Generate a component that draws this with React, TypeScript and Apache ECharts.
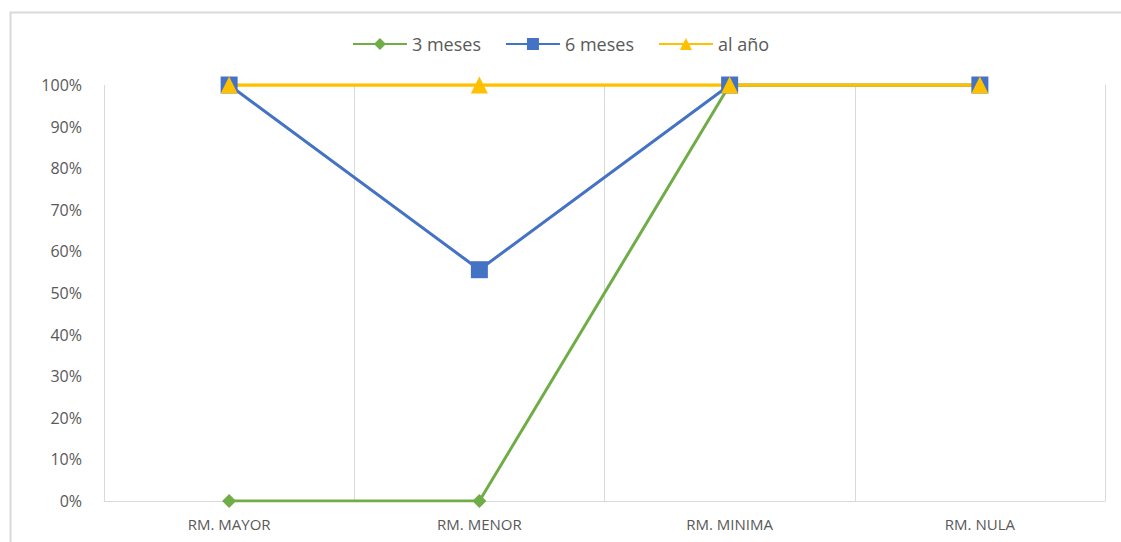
import React, { useEffect, useRef } from "react";
import * as echarts from "echarts";

const categories = ["RM. MAYOR", "RM. MENOR", "RM. MINIMA", "RM. NULA"];
const seriesNames = ["3 meses", "6 meses", "al año"];
const tresMeses = [0, 0, 1, 1];
const seisMeses = [1, 0.556, 1, 1];
const alAnio = [1, 1, 1, 1];
const yTicks = [0, 0.1, 0.2, 0.3, 0.4, 0.5, 0.6, 0.7, 0.8, 0.9, 1];

export default function App() {
  const ref = useRef<HTMLDivElement>(null);
  useEffect(() => {
    if (!ref.current) return;
    const chart = echarts.init(ref.current, null, { renderer: "svg" });
    const font = "'Open Sans', 'Noto Sans', sans-serif";
    chart.setOption({
      animation: false,
      backgroundColor: "#ffffff",
      textStyle: { fontFamily: font },
      graphic: [
        {
          type: "rect",
          shape: { x: 10.5, y: 12.5, width: 1130, height: 560 },
          style: { fill: "none", stroke: "#d9d9d9", lineWidth: 2 },
          silent: true,
        },
      ],
      legend: {
        top: 30,
        left: "center",
        itemWidth: 54,
        itemHeight: 15,
        itemGap: 24,
        textStyle: { fontSize: 18, color: "#595959", fontFamily: font },
        data: seriesNames,
      },
      grid: { left: 104, right: 16, top: 85, bottom: 41 },
      xAxis: {
        type: "category",
        data: categories,
        boundaryGap: true,
        axisLine: { show: true, lineStyle: { color: "#d9d9d9", width: 1 } },
        axisTick: { show: false },
        splitLine: { show: true, lineStyle: { color: "#d9d9d9", width: 1 } },
        axisLabel: {
          color: "#595959",
          fontSize: 15,
          margin: 15,
          fontFamily: font,
        },
      },
      yAxis: {
        type: "value",
        min: 0,
        max: 1,
        interval: 0.1,
        axisLine: { show: false },
        axisTick: { show: false },
        splitLine: { show: false },
        axisLabel: {
          color: "#595959",
          fontSize: 16,
          margin: 22,
          fontFamily: font,
          formatter: (v: number) => {
            const t = yTicks.find((x) => Math.abs(x - v) < 1e-6);
            return Math.round((t ?? v) * 100) + "%";
          },
        },
      },
      series: [
        {
          name: seriesNames[0],
          type: "line",
          data: tresMeses,
          symbol: "diamond",
          symbolSize: 14,
          color: "#70ad47",
          lineStyle: { width: 3, color: "#70ad47" },
          itemStyle: { color: "#70ad47" },
        },
        {
          name: seriesNames[1],
          type: "line",
          data: seisMeses,
          symbol: "rect",
          symbolSize: 17,
          color: "#4472c4",
          lineStyle: { width: 3, color: "#4472c4" },
          itemStyle: { color: "#4472c4" },
        },
        {
          name: seriesNames[2],
          type: "line",
          data: alAnio,
          symbol: "triangle",
          symbolSize: 17,
          color: "#ffc000",
          lineStyle: { width: 3.4, color: "#ffc000" },
          itemStyle: { color: "#ffc000" },
        },
      ],
    });
    return () => chart.dispose();
  }, []);
  return (
    <div
      ref={ref}
      style={{ position: "absolute", left: 0, top: 0, width: 1121, height: 542 }}
    />
  );
}
